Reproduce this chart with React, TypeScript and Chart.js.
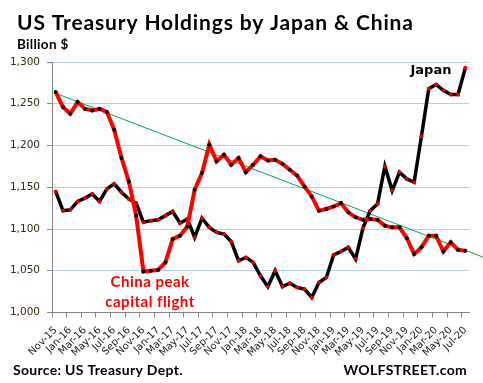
import React, { useEffect, useRef } from 'react';
import { Chart, registerables } from 'chart.js';

Chart.register(...registerables);

const months = [
  'Nov-15', 'Dec-15',
  'Jan-16', 'Feb-16', 'Mar-16', 'Apr-16', 'May-16', 'Jun-16', 'Jul-16', 'Aug-16', 'Sep-16', 'Oct-16', 'Nov-16', 'Dec-16',
  'Jan-17', 'Feb-17', 'Mar-17', 'Apr-17', 'May-17', 'Jun-17', 'Jul-17', 'Aug-17', 'Sep-17', 'Oct-17', 'Nov-17', 'Dec-17',
  'Jan-18', 'Feb-18', 'Mar-18', 'Apr-18', 'May-18', 'Jun-18', 'Jul-18', 'Aug-18', 'Sep-18', 'Oct-18', 'Nov-18', 'Dec-18',
  'Jan-19', 'Feb-19', 'Mar-19', 'Apr-19', 'May-19', 'Jun-19', 'Jul-19', 'Aug-19', 'Sep-19', 'Oct-19', 'Nov-19', 'Dec-19',
  'Jan-20', 'Feb-20', 'Mar-20', 'Apr-20', 'May-20', 'Jun-20', 'Jul-20',
];

const china = [
  1264, 1246, 1238, 1252, 1244, 1242, 1244, 1240, 1219, 1185, 1157, 1116,
  1049, 1050, 1051, 1060, 1088, 1092, 1103, 1147, 1167, 1201, 1181, 1189,
  1177, 1185, 1168, 1177, 1187, 1182, 1183, 1178, 1171, 1164, 1151, 1139,
  1122, 1124, 1127, 1131, 1120, 1114, 1111, 1112, 1111, 1104, 1102, 1102,
  1089, 1070, 1078, 1092, 1092, 1073, 1084, 1075, 1074,
];

const japan = [
  1145, 1122, 1123, 1133, 1137, 1142, 1133, 1148, 1154, 1144, 1136, 1131,
  1108, 1110, 1111, 1116, 1121, 1107, 1112, 1090, 1113, 1102, 1096, 1094,
  1085, 1062, 1066, 1060, 1044, 1031, 1050, 1031, 1035, 1030, 1028, 1018,
  1036, 1042, 1069, 1073, 1078, 1064, 1101, 1122, 1130, 1175, 1146, 1168,
  1160, 1156, 1211, 1268, 1273, 1266, 1261, 1261, 1293,
];

// China linear trend line (start and forward-forecast end)
const trendX = [0, 58.5];
const trendY = [1262.5, 1066];

const yTicks = [1000, 1050, 1100, 1150, 1200, 1250, 1300];

const TITLE = 'US Treasury Holdings by Japan & China';
const SUBTITLE = 'Billion $';
const SOURCE = 'Source: US Treasury Dept.';
const BRAND = 'WOLFSTREET.com';
const JAPAN_LABEL = 'Japan';
const CHINA_LABEL = ['China peak', 'capital flight'];

const textPlugin = {
  id: 'texts',
  afterDraw(chart: any) {
    const ctx = chart.ctx;
    const x2 = chart.scales.x2;
    const y = chart.scales.y;
    ctx.save();
    ctx.fillStyle = '#000';
    ctx.textBaseline = 'alphabetic';
    ctx.textAlign = 'left';
    ctx.font = 'bold 21px Lato';
    (ctx as any).letterSpacing = '0.85px';
    ctx.fillText(TITLE, 17, 30);
    ctx.font = 'bold 13.5px Lato';
    (ctx as any).letterSpacing = '0.3px';
    ctx.fillText(SUBTITLE, 17, 49);
    ctx.font = 'bold 14px Lato';
    (ctx as any).letterSpacing = '0.3px';
    ctx.fillText(SOURCE, 13, 375);
    ctx.textAlign = 'right';
    ctx.fillText(BRAND, 467, 375);

    ctx.textAlign = 'center';
    ctx.textBaseline = 'middle';
    (ctx as any).letterSpacing = '0px';
    ctx.font = 'bold 13px "DejaVu Sans"';
    ctx.fillStyle = '#000';
    ctx.fillText(JAPAN_LABEL, x2.getPixelForValue(51.3), y.getPixelForValue(1289.5));

    ctx.font = 'bold 15px Lato';
    (ctx as any).letterSpacing = '0.5px';
    ctx.fillStyle = '#FF0000';
    ctx.fillText(CHINA_LABEL[0], x2.getPixelForValue(12.9), y.getPixelForValue(1036.5));
    ctx.fillText(CHINA_LABEL[1], x2.getPixelForValue(12.9), y.getPixelForValue(1012.5));
    ctx.restore();
  },
};

export default function App() {
  const ref = useRef<HTMLCanvasElement>(null);
  useEffect(() => {
    document.body.style.margin = '0';
    const chart = new Chart(ref.current as HTMLCanvasElement, {
      type: 'line',
      data: {
        labels: months,
        datasets: [
          {
            label: 'Trend',
            data: trendX.map((x, i) => ({ x, y: trendY[i] })),
            xAxisID: 'x2',
            borderColor: '#00A84F',
            borderWidth: 1,
            pointRadius: 0,
            tension: 0,
            clip: false as any,
            order: 3,
          },
          {
            label: 'Japan',
            data: japan,
            borderColor: '#000000',
            borderWidth: 3.5,
            pointRadius: 2,
            pointBorderWidth: 0,
            pointBackgroundColor: '#E00000',
            tension: 0,
            order: 2,
          },
          {
            label: 'China',
            data: china,
            borderColor: '#FF0000',
            borderWidth: 4,
            pointRadius: 2,
            pointBorderWidth: 0,
            pointBackgroundColor: '#000000',
            tension: 0,
            order: 1,
          },
        ],
      },
      options: {
        responsive: false,
        animation: false,
        devicePixelRatio: 1,
        layout: { padding: { top: 62, right: 14, bottom: 23, left: 0 } },
        plugins: {
          legend: { display: false },
          title: { display: false },
          tooltip: { enabled: false },
        },
        scales: {
          x: {
            type: 'category',
            offset: true,
            afterFit: (s: any) => { s.height = 47.5; },
            grid: {
              offset: true,
              drawOnChartArea: false,
              drawTicks: true,
              tickLength: 5,
              tickColor: (c: any) => (c.index % 2 === 0 ? '#868686' : 'rgba(0,0,0,0)'),
            },
            border: { color: '#868686', width: 1 },
            ticks: {
              autoSkip: false,
              minRotation: 45,
              maxRotation: 45,
              padding: 7,
              labelOffset: 0,
              color: '#222',
              font: { family: '"DejaVu Sans"', size: 10 },
              callback: (_v: any, i: number) => (i % 2 === 0 ? months[i] : ''),
            },
          },
          x2: {
            type: 'linear',
            display: false,
            min: -0.5,
            max: months.length - 0.5,
          },
          y: {
            min: yTicks[0],
            max: yTicks[yTicks.length - 1],
            afterFit: (s: any) => { s.width = 52; },
            afterBuildTicks: (s: any) => { s.ticks = yTicks.map((v) => ({ value: v })); },
            grid: {
              color: (c: any) => (c.tick && c.tick.value === yTicks[0] ? 'rgba(0,0,0,0)' : '#B9CDE5'),
              tickColor: '#868686',
              tickLength: 5,
            },
            border: { color: '#868686', width: 1 },
            ticks: {
              padding: 7,
              color: '#3a2a10',
              font: { family: '"DejaVu Sans"', size: 10.5 },
              callback: (v: any) => Number(v).toLocaleString('en-US'),
            },
          },
        },
      },
      plugins: [textPlugin],
    });
    return () => chart.destroy();
  }, []);
  return (
    <div style={{ position: 'absolute', left: 0, top: 0, width: 483, height: 383 }}>
      <canvas ref={ref} width={483} height={383} style={{ display: 'block' }} />
    </div>
  );
}
